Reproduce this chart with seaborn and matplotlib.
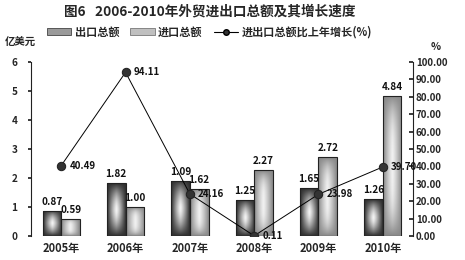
import numpy as np
import pandas as pd
import matplotlib
matplotlib.use("Agg")
import matplotlib.pyplot as plt
from matplotlib.patches import Rectangle
from matplotlib.lines import Line2D
import seaborn as sns

# ---- data ----
years = ["2005年", "2006年", "2007年", "2008年", "2009年", "2010年"]
exports = [0.87, 1.82, 1.90, 1.25, 1.65, 1.26]
export_labels = ["0.87", "1.82", "1.09", "1.25", "1.65", "1.26"]
imports = [0.59, 1.00, 1.62, 2.27, 2.72, 4.84]
import_labels = ["0.59", "1.00", "1.62", "2.27", "2.72", "4.84"]
growth = [40.49, 94.11, 24.16, 0.11, 23.98, 39.70]
growth_labels = ["40.49", "94.11", "24.16", "0.11", "23.98", "39.70"]
series_names = ["出口总额", "进口总额", "进出口总额比上年增长(%)"]
title = "图6   2006-2010年外贸进出口总额及其增长速度"
left_ticks = [0, 1, 2, 3, 4, 5, 6]
right_ticks = [0, 10, 20, 30, 40, 50, 60, 70, 80, 90, 100]

sns.set_theme(style="white")
plt.rcParams["font.family"] = ["Noto Sans CJK SC", "DejaVu Sans"]
plt.rcParams["font.weight"] = "bold"

df = pd.DataFrame({
    "year": years * 2,
    "value": exports + imports,
    "kind": [series_names[0]] * len(years) + [series_names[1]] * len(years),
})

fig = plt.figure(figsize=(4.65, 2.6), dpi=100)
fig.patch.set_facecolor("white")
ax = fig.add_axes([0.0667, 0.0923, 0.8215, 0.669])
ax.set_facecolor("none")

pal = {series_names[0]: "#505050", series_names[1]: "#a0a0a0"}
sns.barplot(data=df, x="year", y="value", hue="kind", palette=pal, ax=ax,
            width=0.58, edgecolor="#222222", linewidth=0.8, legend=False,
            saturation=1)

ax.set_xlim(-0.47, 5.47)
ax.set_ylim(0, 6)

# gradient fills (box-like: dark edges, light centre)
def grad_img(edge, center, vpow, n=40):
    u = np.linspace(-1, 1, n)
    v = np.linspace(-1, 1, n * 3)
    U, V = np.meshgrid(u, v)
    t = (1 - np.abs(U) ** 1.2) * (1 - np.abs(V) ** vpow)
    t = np.clip(t, 0, 1)
    e = np.array(matplotlib.colors.to_rgb(edge))
    c = np.array(matplotlib.colors.to_rgb(center))
    img = e[None, None, :] * (1 - t[..., None]) + c[None, None, :] * t[..., None]
    return img

grads = {
    matplotlib.colors.to_hex(pal[series_names[0]]): grad_img("#2e2e2e", "#f6f6f6", 1.6),
    matplotlib.colors.to_hex(pal[series_names[1]]): grad_img("#888888", "#f2f2f2", 3.0),
}
bars = [p for p in ax.patches if isinstance(p, Rectangle)]
for p in bars:
    key = matplotlib.colors.to_hex(p.get_facecolor())
    if key not in grads:
        continue
    x0, y0 = p.get_x(), p.get_y()
    w, h = p.get_width(), p.get_height()
    im = ax.imshow(grads[key], extent=[x0, x0 + w, y0, y0 + h], aspect="auto",
                   zorder=p.get_zorder() - 0.05, interpolation="bilinear")
    im.set_clip_path(p)
    p.set_facecolor("none")
ax.set_xlim(-0.47, 5.47)
ax.set_ylim(0, 6)

# bar labels
for i in range(len(years)):
    ax.annotate(export_labels[i], (i - 0.145, exports[i]), xytext=(0, 3),
                textcoords="offset points", ha="center", va="bottom",
                fontsize=7.2, fontweight="bold", color="#111111", zorder=6)
    ax.annotate(import_labels[i], (i + 0.145, imports[i]), xytext=(0, 3),
                textcoords="offset points", ha="center", va="bottom",
                fontsize=7.2, fontweight="bold", color="#111111", zorder=6)

# axes styling
for s in ["top", "right", "bottom"]:
    ax.spines[s].set_visible(False)
ax.spines["left"].set_color("#222222")
ax.spines["left"].set_linewidth(0.8)
ax.set_yticks(left_ticks)
ax.set_yticklabels([str(t) for t in left_ticks], fontsize=7.2, fontweight="bold")
ax.tick_params(axis="y", length=2, pad=8, color="#222222")
ax.set_xlabel("")
ax.set_ylabel("")
ax.set_xticks(range(len(years)))
ax.set_xticklabels(years, fontsize=8, fontweight="bold")
ax.tick_params(axis="x", length=0, pad=4)
ax.set_xticks([i + 0.5 for i in range(len(years) - 1)], minor=True)
ax.tick_params(axis="x", which="minor", length=3, direction="in", color="#222222", width=0.8)

# growth line
ax2 = ax.twinx()
xs = np.arange(len(years))
sns.lineplot(x=xs, y=growth, ax=ax2, color="black", linewidth=0.7,
             marker="o", markersize=6, markerfacecolor="#333333",
             markeredgecolor="#222222", zorder=5)
ax2.set_ylim(0, 100)
ax2.set_xlim(-0.47, 5.47)
for i in range(len(years)):
    ax2.annotate(growth_labels[i], (xs[i], growth[i]), xytext=(6, 0),
                 textcoords="offset points", ha="left", va="center",
                 fontsize=7, fontweight="bold", color="#111111", zorder=7)
for s in ["top", "left", "bottom"]:
    ax2.spines[s].set_visible(False)
ax2.spines["right"].set_color("#222222")
ax2.spines["right"].set_linewidth(0.8)
ax2.set_yticks(right_ticks)
ax2.set_yticklabels([f"{t:.2f}" for t in right_ticks], fontsize=7, fontweight="bold")
ax2.tick_params(axis="y", length=3, direction="in", pad=2, color="#222222")
ax2.set_ylabel("")
ax2.grid(False)
ax.grid(False)

# texts
fig.text(0.45, 0.955, title, ha="center", va="center", fontsize=9.8, fontweight="bold")
fig.text(0.01, 0.84, "亿美元", ha="left", va="center", fontsize=7.5, fontweight="bold")
fig.text(0.925, 0.82, "%", ha="left", va="center", fontsize=7.5, fontweight="bold")

handles = [
    Rectangle((0, 0), 1, 1, facecolor="#9a9a9a", edgecolor="#444444", linewidth=0.6),
    Rectangle((0, 0), 1, 1, facecolor="#c0c0c0", edgecolor="#777777", linewidth=0.6),
    Line2D([0], [0], color="black", lw=0.8, marker="o", markersize=4,
           markerfacecolor="#333333"),
]
fig.legend(handles, series_names, loc="center", bbox_to_anchor=(0.45, 0.877),
           ncol=3, frameon=False, handlelength=2.2,
           handleheight=0.6, handletextpad=0.3, columnspacing=1.0,
           prop={"weight": "bold", "size": 8})

fig.savefig("out.png", dpi=100)
